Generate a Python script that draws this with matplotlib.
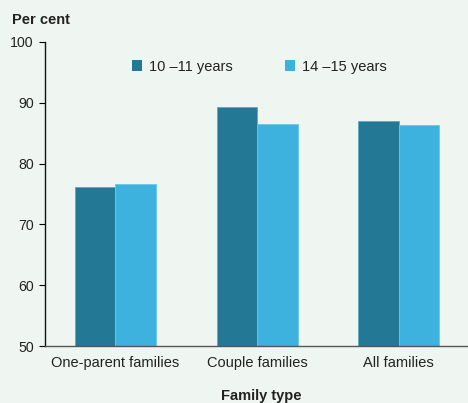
import numpy as np
import matplotlib
matplotlib.use("Agg")
import matplotlib.pyplot as plt

plt.rcParams['font.family'] = ['Liberation Sans', 'DejaVu Sans']

categories = ["One-parent families", "Couple families", "All families"]
series_names = ["10 \u201311 years", "14 \u201315 years"]
vals_10_11 = [76.2, 89.3, 87.0]
vals_14_15 = [76.6, 86.5, 86.3]

bg = '#eff6f2'
dark = '#237896'
light = '#3eb2de'
txt = '#222222'

fig = plt.figure(figsize=(4.68, 4.03), dpi=100, facecolor=bg)
ax = fig.add_axes([0.0955, 0.1414, 0.9045, 0.7546], facecolor=bg)

x = np.arange(len(categories))
w = 0.286
ax.bar(x - w/2, np.array(vals_10_11) - 50, w, bottom=50, color=dark,
       edgecolor='#5aaac8', linewidth=0.6, label=series_names[0])
ax.bar(x + w/2, np.array(vals_14_15) - 50, w, bottom=50, color=light,
       edgecolor='#6cc6e8', linewidth=0.6, label=series_names[1])

ax.set_xlim(-0.5, 2.49)
ax.set_ylim(50, 100)
ax.set_yticks(np.arange(50, 101, 10))
ax.set_xticks(x)
ax.set_xticklabels(categories)
ax.tick_params(axis='x', length=0, pad=7, labelsize=10.5, labelcolor=txt)
ax.tick_params(axis='y', length=4, width=0.8, pad=4, labelsize=10.2,
               labelcolor=txt, direction='out')

for s in ['top', 'right']:
    ax.spines[s].set_visible(False)
ax.spines['left'].set_color('#111111')
ax.spines['left'].set_linewidth(1.0)
ax.spines['bottom'].set_color('#555555')
ax.spines['bottom'].set_linewidth(1.0)

leg = ax.legend(ncol=2, frameon=False, loc='upper left',
                bbox_to_anchor=(0.175, 0.985), handlelength=0.7,
                handleheight=0.7, handletextpad=0.45, columnspacing=3.6,
                fontsize=10.5, labelcolor=txt)
for p in leg.get_patches():
    p.set_edgecolor('none')

fig.text(12/468, 1 - 20/403, "Per cent", fontsize=10.5, fontweight='bold',
         color=txt, va='center', ha='left')
fig.text(261/468, 1 - 396/403, "Family type", fontsize=10.5, fontweight='bold',
         color=txt, va='center', ha='center')

plt.savefig('out.png', dpi=100, facecolor=bg)
